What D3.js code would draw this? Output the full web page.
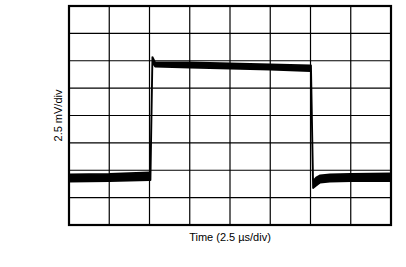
<!DOCTYPE html>
<html>
<head>
<meta charset="utf-8">
<script src="https://cdn.jsdelivr.net/npm/d3@7"></script>
<style>
  html, body { margin: 0; padding: 0; background: #fff; }
  svg { display: block; }
  text { font-family: "Liberation Sans", Arial, sans-serif; fill: #000; }
</style>
</head>
<body>
<svg id="chart" width="406" height="267"></svg>
<script>
// Time axis: 2.5 µs/div, 8 divisions
const xTicks = [0, 2.5, 5, 7.5, 10, 12.5, 15, 17.5, 20];
// Voltage axis: 2.5 mV/div, 8 divisions
const yTicks = [0, 2.5, 5, 7.5, 10, 12.5, 15, 17.5, 20];

// Trace envelope (time in µs, level in mV)
const traceTime  = [0,    2.5,  5.0,  5.06, 5.18,  5.35,  7.5,   10,    12.5,  15.0,  15.03, 15.16, 15.35, 15.6, 16.2, 17.5, 20];
const traceUpper = [4.62, 4.66, 4.80, 4.80, 15.34, 14.85, 14.85, 14.75, 14.66, 14.57, 14.57, 4.02,  4.34,  4.53, 4.62, 4.66, 4.71];
const traceLower = [3.97, 4.01, 4.10, 4.10, 14.90, 14.47, 14.38, 14.29, 14.20, 14.06, 14.06, 3.38,  3.60,  3.88, 3.97, 4.01, 4.01];

const xLabel = "Time (2.5 µs/div)";
const yLabel = "2.5 mV/div";

(function () {
const pL = 69, pR = 391, pT = 6, pB = 225;
const svg = d3.select("#chart");

const x = d3.scaleLinear().domain([0, 20]).range([pL, pR]);
const y = d3.scaleLinear().domain([0, 20]).range([pB, pT]);

// Grid
const grid = svg.append("g").attr("stroke", "#000").attr("stroke-width", 1.2);
grid.selectAll("line.v").data(xTicks.slice(1, -1)).join("line")
  .attr("class", "v")
  .attr("x1", d => x(d)).attr("x2", d => x(d))
  .attr("y1", pT).attr("y2", pB);
grid.selectAll("line.h").data(yTicks.slice(1, -1)).join("line")
  .attr("class", "h")
  .attr("x1", pL).attr("x2", pR)
  .attr("y1", d => y(d)).attr("y2", d => y(d));

// Trace
const pts = traceTime.map((t, i) => ({ t, hi: traceUpper[i], lo: traceLower[i] }));
const area = d3.area()
  .x(d => x(d.t))
  .y0(d => y(d.lo))
  .y1(d => y(d.hi));
svg.append("path")
  .datum(pts)
  .attr("d", area)
  .attr("fill", "#000")
  .attr("stroke", "#000")
  .attr("stroke-width", 1.8)
  .attr("stroke-linejoin", "round");

// Frame
svg.append("rect")
  .attr("x", pL).attr("y", pT)
  .attr("width", pR - pL).attr("height", pB - pT)
  .attr("fill", "none").attr("stroke", "#000").attr("stroke-width", 2.2);

// Labels
svg.append("text")
  .attr("x", (pL + pR) / 2).attr("y", 241)
  .attr("text-anchor", "middle").attr("font-size", 11)
  .text(xLabel);
svg.append("text")
  .attr("transform", `translate(62, ${(pT + pB) / 2}) rotate(-90)`)
  .attr("text-anchor", "middle").attr("font-size", 11)
  .text(yLabel);
})();
</script>
</body>
</html>
